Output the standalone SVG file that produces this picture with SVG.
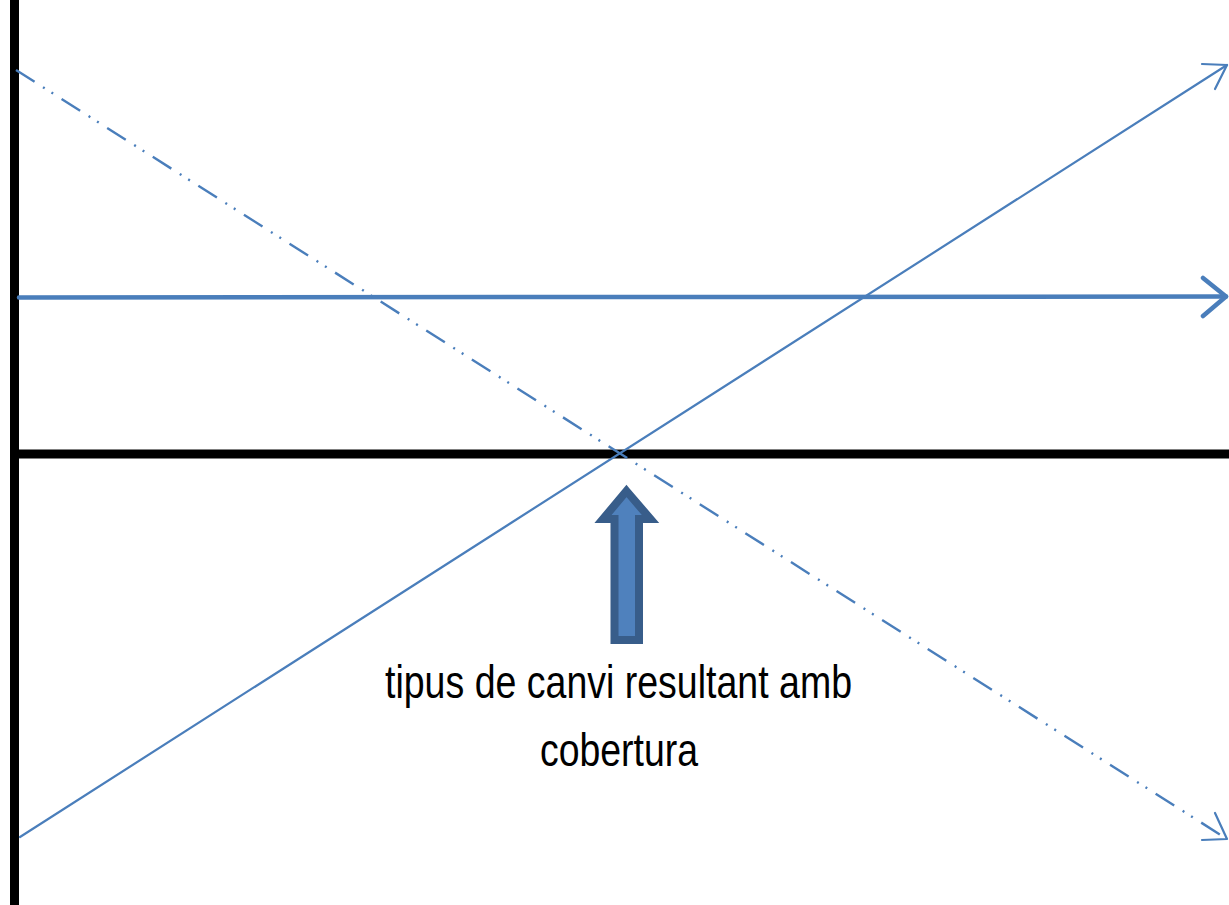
<svg xmlns="http://www.w3.org/2000/svg" width="1229" height="905" viewBox="0 0 1229 905">
  <style>
    .axis { stroke: #000000; stroke-width: 9; fill: none; }
    .blue { stroke: #4A7EBB; fill: none; stroke-linecap: round; stroke-linejoin: round; }
    .thin { stroke-width: 2.2; }
    .thick { stroke-width: 4.5; }
    .dash { stroke-width: 2.4; stroke-dasharray: 22 10 2 8 2 10; stroke-linecap: butt; }
    .label { font-family: "Liberation Sans Narrow", "Liberation Sans", sans-serif; font-size: 46px; fill: #000000; text-anchor: middle; }
  </style>
  <rect width="1229" height="905" fill="#ffffff"/>
  <g id="connectors">
    <line class="axis" x1="14.5" y1="0" x2="14.5" y2="905"/>
    <line class="axis" x1="19" y1="454" x2="1229" y2="454"/>
    <g id="horizontal-arrow">
      <line class="blue thick" x1="19" y1="297.5" x2="1226" y2="296.5"/>
      <polyline class="blue thick" points="1203,278 1226,296.5 1203,316"/>
    </g>
    <g id="ascending-arrow">
      <line class="blue thin" x1="20" y1="837" x2="1227" y2="65"/>
      <polyline class="blue thin" points="1202,64 1227,65 1215,89"/>
    </g>
    <g id="descending-arrow">
      <line class="blue dash" x1="16" y1="70" x2="1227" y2="839"/>
      <polyline class="blue thin" points="1215,813 1227,839 1202,840"/>
    </g>
  </g>
  <g id="block-arrow">
    <path d="M626.5,491 L650.5,519 L639,519 L639,640 L614.5,640 L614.5,519 L603,519 Z" fill="#4F81BD" stroke="#385D8A" stroke-width="8" stroke-linejoin="miter"/>
  </g>
  <g id="label">
    <text class="label" x="618.5" y="698" textLength="467" lengthAdjust="spacingAndGlyphs">tipus de canvi resultant amb</text>
    <text class="label" x="619" y="766" textLength="158" lengthAdjust="spacingAndGlyphs">cobertura</text>
  </g>
</svg>
